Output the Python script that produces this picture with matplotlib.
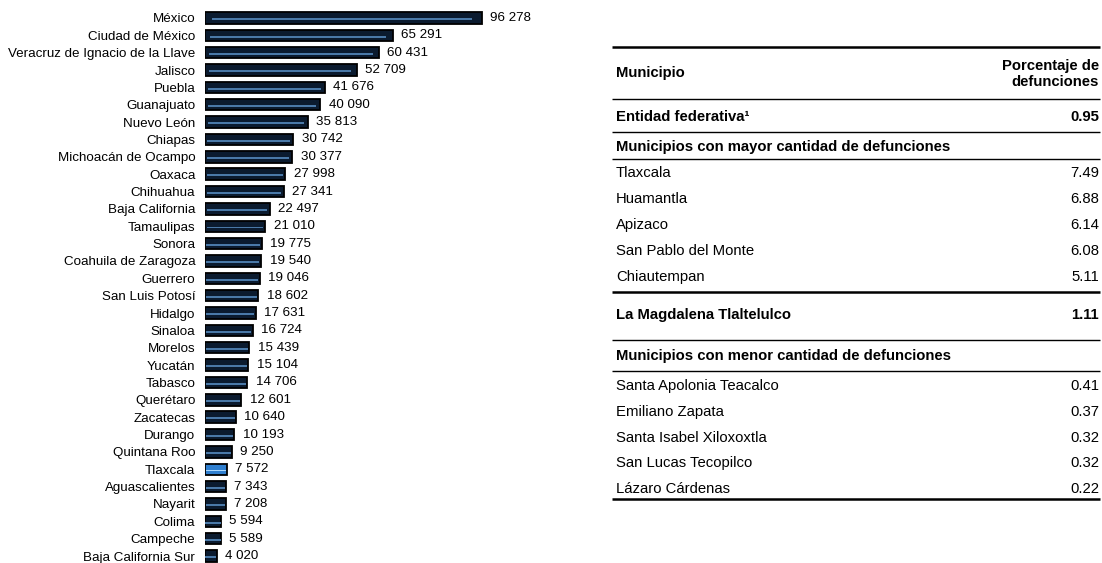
import numpy as np
import matplotlib.pyplot as plt

plt.rcParams['font.family'] = ['Liberation Sans', 'DejaVu Sans']

# Defunciones por entidad federativa
estados = ["México", "Ciudad de México", "Veracruz de Ignacio de la Llave", "Jalisco",
           "Puebla", "Guanajuato", "Nuevo León", "Chiapas", "Michoacán de Ocampo",
           "Oaxaca", "Chihuahua", "Baja California", "Tamaulipas", "Sonora",
           "Coahuila de Zaragoza", "Guerrero", "San Luis Potosí", "Hidalgo", "Sinaloa",
           "Morelos", "Yucatán", "Tabasco", "Querétaro", "Zacatecas", "Durango",
           "Quintana Roo", "Tlaxcala", "Aguascalientes", "Nayarit", "Colima",
           "Campeche", "Baja California Sur"]
defunciones = [96278, 65291, 60431, 52709, 41676, 40090, 35813, 30742, 30377,
               27998, 27341, 22497, 21010, 19775, 19540, 19046, 18602, 17631, 16724,
               15439, 15104, 14706, 12601, 10640, 10193, 9250, 7572, 7343, 7208, 5594,
               5589, 4020]
destacado = "Tlaxcala"

# Tabla de municipios
encabezado = ["Municipio", "Porcentaje de\ndefunciones"]
entidad = ("Entidad federativa\u00b9", "0.95")
titulo_mayor = "Municipios con mayor cantidad de defunciones"
mun_mayor = ["Tlaxcala", "Huamantla", "Apizaco", "San Pablo del Monte", "Chiautempan"]
pct_mayor = ["7.49", "6.88", "6.14", "6.08", "5.11"]
capital = ("La Magdalena Tlaltelulco", "1.11")
titulo_menor = "Municipios con menor cantidad de defunciones"
mun_menor = ["Santa Apolonia Teacalco", "Emiliano Zapata", "Santa Isabel Xiloxoxtla",
             "San Lucas Tecopilco", "Lázaro Cárdenas"]
pct_menor = ["0.41", "0.37", "0.32", "0.32", "0.22"]

W, H = 1102, 563
fig = plt.figure(figsize=(W / 100, H / 100), dpi=100)

# --- grafica de barras ---
ax = fig.add_axes([205 / W, 0, 345 / W, 1 - 9.3 / H])
y = np.arange(len(estados))
vals = np.array(defunciones)
caras = ['#2f7fd0' if e == destacado else '#0b1b2f' for e in estados]
rayas = ['#a9d8ff' if e == destacado else '#4a79a8' for e in estados]
ax.barh(y, vals, height=0.66, color=caras, edgecolor='black', linewidth=1.3)
ax.barh(y + 0.07, vals * 0.94, left=vals * 0.025, height=0.11, color=rayas, linewidth=0)
for yi, v in zip(y, vals):
    ax.text(v + 2900, yi, f"{v:,}".replace(",", " "), va='center', ha='left', fontsize=9.6)
ax.set_yticks(y)
ax.set_yticklabels(estados, fontsize=9.6)
ax.tick_params(axis='y', length=0, pad=7)
ax.set_xlim(0, 120000)
ax.set_ylim(31.4, -0.5)
ax.set_xticks([])
for s in ax.spines.values():
    s.set_visible(False)

# --- tabla ---
tx = fig.add_axes([0, 0, 1, 1])
tx.set_xlim(0, W)
tx.set_ylim(H, 0)
tx.axis('off')
x0, x1 = 612, 1100
xl, xr = 616, 1099

def linea(yy, lw):
    tx.plot([x0, x1], [yy, yy], color='black', lw=lw, solid_capstyle='butt')

fs = 10.7
linea(47, 1.8)
tx.text(xl, 73, encabezado[0], fontsize=fs, fontweight='bold', va='center')
tx.text(xr, 74, encabezado[1], fontsize=fs, fontweight='bold', va='center', ha='right',
        linespacing=1.2)
linea(99, 1.0)
tx.text(xl, 117, entidad[0], fontsize=fs, fontweight='bold', va='center')
tx.text(xr, 117, entidad[1], fontsize=fs, fontweight='bold', va='center', ha='right')
linea(132, 1.0)
tx.text(xl, 147, titulo_mayor, fontsize=fs, fontweight='bold', va='center')
linea(159, 1.0)
for i, (m, p) in enumerate(zip(mun_mayor, pct_mayor)):
    yy = 173 + i * 26
    tx.text(xl, yy, m, fontsize=fs, va='center')
    tx.text(xr, yy, p, fontsize=fs, va='center', ha='right')
linea(292, 1.8)
tx.text(xl, 315, capital[0], fontsize=fs, fontweight='bold', va='center')
tx.text(xr, 315, capital[1], fontsize=fs, fontweight='bold', va='center', ha='right')
linea(340, 1.0)
tx.text(xl, 356, titulo_menor, fontsize=fs, fontweight='bold', va='center')
linea(371, 1.0)
for i, (m, p) in enumerate(zip(mun_menor, pct_menor)):
    yy = 386 + i * 25.8
    tx.text(xl, yy, m, fontsize=fs, va='center')
    tx.text(xr, yy, p, fontsize=fs, va='center', ha='right')
linea(499, 1.8)

fig.savefig("out.png", dpi=100)
